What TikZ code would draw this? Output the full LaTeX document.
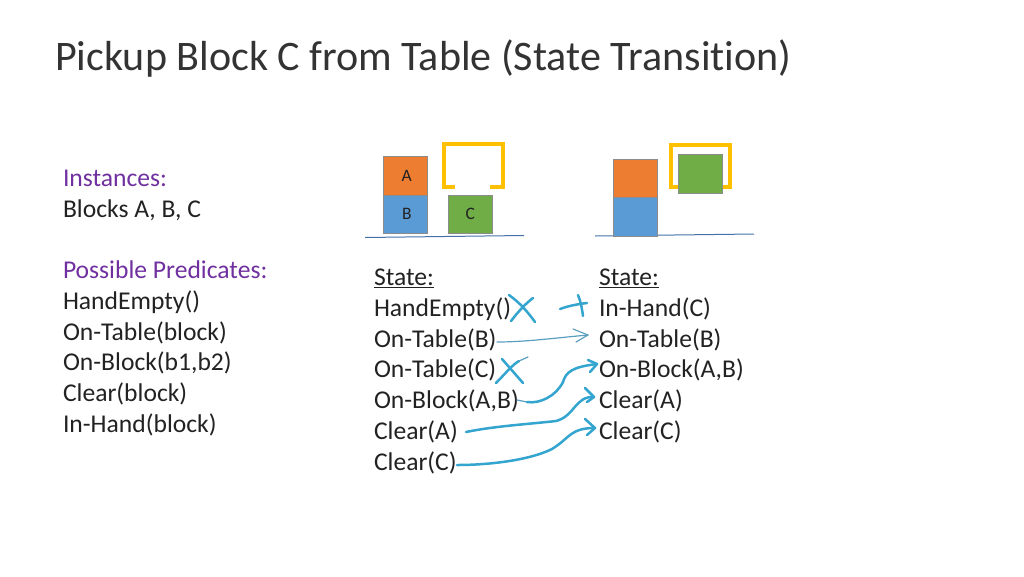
\documentclass[tikz,border=0pt]{standalone}
\usepackage{fontspec}
\setmainfont[Ligatures=NoCommon]{Carlito}
\definecolor{ink}{HTML}{33A5CF}
\definecolor{thinink}{HTML}{5B9FBF}
\definecolor{hdr}{HTML}{7030A0}
\definecolor{txt}{HTML}{222222}
\definecolor{ttl}{HTML}{333333}
\definecolor{borange}{HTML}{ED7D31}
\definecolor{bblue}{HTML}{5B9BD5}
\definecolor{bgreen}{HTML}{70AD47}
\definecolor{gold}{HTML}{FFC000}
\definecolor{ground}{HTML}{4472A8}
\tikzset{
  line/.style={anchor=base west,inner sep=0pt,outer sep=0pt,text=txt,font=\fontsize{25.6}{30}\selectfont},
  head/.style={line,text=hdr},
  blockbox/.style={draw=black!45,line width=.5pt,minimum width=43.5pt,minimum height=38.5pt,inner sep=0pt,anchor=north west,font=\fontsize{17.5}{19}\selectfont,text=txt},
  gripper/.style={draw=gold,line width=4pt,miter limit=10},
  groundline/.style={draw=ground,line width=1pt},
  hand/.style={draw=ink,line width=2.5pt,line cap=round,line join=round},
  thinhand/.style={draw=thinink,line width=1.2pt,line cap=round,line join=round}
}
\begin{document}
\begin{tikzpicture}[x=1pt,y=-1pt]
\useasboundingbox (0,0) rectangle (1024,576);
\node[anchor=base west,inner sep=0pt,text=ttl,font=\fontsize{42.05}{48}\selectfont] (title) at (55,70) {Pickup Block C from Table (State Transition)};
% left column
\node[head] (inst) at (63,186.5) {Instances:};
\node[line] (blks) at (63,217) {Blocks A, B, C};
\node[head] (pred) at (63,278.5) {Possible Predicates:};
\node[line] (p1) at (63,309) {HandEmpty()};
\node[line] (p2) at (63,340) {On-Table(block)};
\node[line] (p3) at (63,370.5) {On-Block(b1,b2)};
\node[line] (p4) at (63,401) {Clear(block)};
\node[line] (p5) at (63,432) {In-Hand(block)};
% middle column
\node[line] (ls) at (374,285.5) {\underline{State:}};
\node[line] (l1) at (374,316.5) {HandEmpty()};
\node[line] (l2) at (374,347) {On-Table(B)};
\node[line] (l3) at (374,377.5) {On-Table(C)};
\node[line] (l4) at (374,408.5) {On-Block(A,B)};
\node[line] (l5) at (374,439) {Clear(A)};
\node[line] (l6) at (374,470) {Clear(C)};
% right column
\node[line] (rs) at (599,285.5) {\underline{State:}};
\node[line] (r1) at (599,316.5) {In-Hand(C)};
\node[line] (r2) at (599,347) {On-Table(B)};
\node[line] (r3) at (599,377.5) {On-Block(A,B)};
\node[line] (r4) at (599,408.5) {Clear(A)};
\node[line] (r5) at (599,439) {Clear(C)};
% first scene
\draw[groundline] (365,237.5) -- (524,235.5);
\node[blockbox,fill=bblue] (bB) at (383.3,194.7) {\hspace*{3pt}\raisebox{-4pt}{B}};
\node[blockbox,fill=borange] (bA) at (383.3,156.2) {\hspace*{3pt}\raisebox{-5pt}{A}};
\node[blockbox,fill=bgreen] (bC) at (448.2,194.7) {\raisebox{-4pt}{C}};
\draw[gripper] (455.2,186.5) -- (443.5,186.5) -- (443.5,143.5) -- (502.5,143.5) -- (502.5,186.5) -- (490,186.5);
% second scene
\draw[groundline] (595,236) -- (754,234);
\node[blockbox,fill=bblue] (bB2) at (613.3,197) {};
\node[blockbox,fill=borange] (bA2) at (613.3,158.5) {};
\draw[gripper] (671,186.5) -- (671,144.5) -- (730,144.5) -- (730,186.5) -- cycle;
\node[blockbox,fill=bgreen] (bC2) at (678,154.2) {};
% handwritten marks
\draw[hand] (509,295) .. controls (520,303) and (527,311) .. (535,322);
\draw[hand] (511,321) .. controls (518,312) and (525,304) .. (533,298);
\draw[hand] (560,309) .. controls (568,306) and (578,304) .. (587,303);
\draw[hand] (578,295) .. controls (581,302) and (582,309) .. (583,316);
\draw[hand] (502,359) .. controls (509,367) and (516,375) .. (523,383);
\draw[hand] (496,383) .. controls (505,374) and (512,365) .. (519,361);
\draw[thinhand] (519,361) -- (528,357);
% transition arrows
\coordinate (a2s) at (497,342);
\coordinate (a2e) at (588,335);
\draw[thinhand] (a2s) .. controls (525,342) and (555,338) .. (a2e);
\draw[thinhand] (573,329) -- (a2e) -- (576,342);
\coordinate (a4s) at (517,400);
\coordinate (a4e) at (597,364);
\draw[thinhand] (a4s) -- (527,402);
\draw[hand] (527,402) .. controls (540,404) and (556,396) .. (563,382) .. controls (566,372) and (572,367) .. (a4e);
\draw[hand] (588,360) -- (a4e) -- (590,372);
\coordinate (a5s) at (466,432);
\coordinate (a5e) at (594,397);
\draw[hand] (a5s) .. controls (495,426) and (530,424) .. (556,421) .. controls (575,416) and (575,396) .. (a5e);
\draw[hand] (585,388) -- (a5e) -- (587,402);
\coordinate (a6s) at (457,465);
\coordinate (a6e) at (595,428);
\draw[hand] (a6s) .. controls (490,465) and (530,460) .. (552,449) .. controls (570,438) and (570,428) .. (a6e);
\draw[hand] (585,419) -- (a6e) -- (587,435);
\end{tikzpicture}
\end{document}
